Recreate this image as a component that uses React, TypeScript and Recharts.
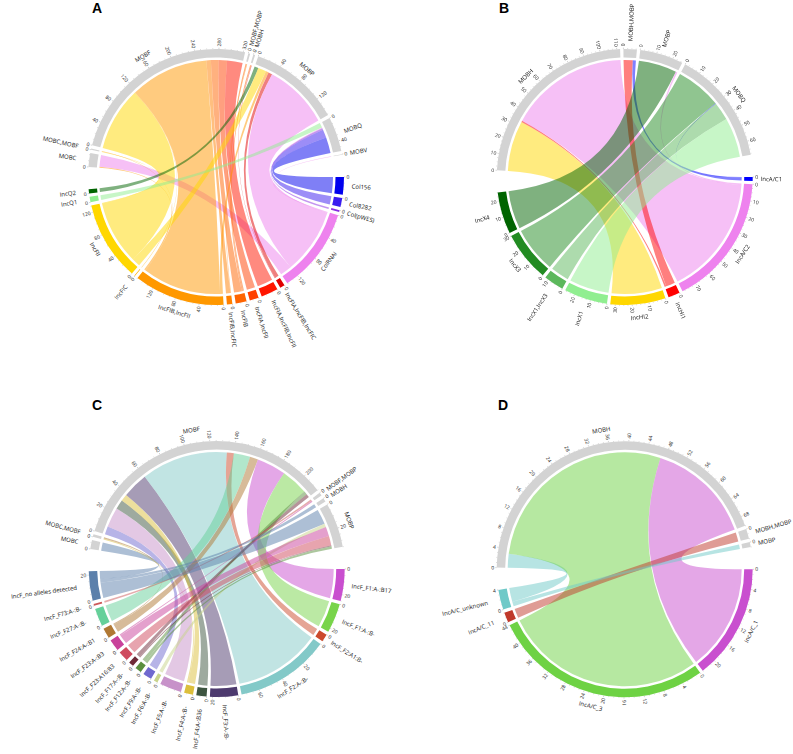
import React from 'react';
import { PieChart, Pie, Cell } from 'recharts';

type Link = [string, string, number];

const GREY = '#d3d3d3';
const BIG_GAP = 10;
const SMALL_GAP = 1.5;

// panel A
const incA = ['Col156', 'Col8282', 'Col(pWES)', 'ColRNAi', 'IncFIA,IncFIB,IncFIC', 'IncFIA,IncFIB,IncFII', 'IncFIA,IncFII', 'IncFIB', 'IncFIB,IncFIC', 'IncFIB,IncFII', 'IncFIC', 'IncFII', 'IncQ1', 'IncQ2'];
const mobA = ['MOBC', 'MOBC,MOBF', 'MOBF', 'MOBF,MOBP', 'MOBH', 'MOBP', 'MOBQ', 'MOBV'];
const coloursA = ['#0000ee', '#3a1cf0', '#8a2be2', '#ee82ee', '#e00000', '#ff1500', '#ff4000', '#ff6400', '#ff8000', '#ff9800', '#ffb000', '#ffd700', '#90ee90', '#006400'];
const linksA: Link[] = [
  ['MOBC', 'IncFIB,IncFII', 2], ['MOBC', 'ColRNAi', 21],
  ['MOBC,MOBF', 'IncFII', 1], ['MOBC,MOBF', 'IncFIB,IncFII', 1],
  ['MOBF', 'IncFII', 115], ['MOBF', 'IncFIC', 1], ['MOBF', 'IncFIB,IncFII', 142], ['MOBF', 'IncFIB,IncFIC', 8], ['MOBF', 'IncFIB', 14], ['MOBF', 'IncFIA,IncFII', 15], ['MOBF', 'IncFIA,IncFIB,IncFII', 28],
  ['MOBF,MOBP', 'IncFIB', 2], ['MOBF,MOBP', 'IncFIB,IncFIC', 1],
  ['MOBH', 'IncFIB', 2], ['MOBH', 'IncFIA,IncFIB,IncFIC', 1],
  ['MOBP', 'IncQ2', 7], ['MOBP', 'IncFII', 15], ['MOBP', 'IncFIB,IncFII', 5], ['MOBP', 'IncFIA,IncFIB,IncFIC', 7], ['MOBP', 'ColRNAi', 118],
  ['MOBQ', 'IncQ1', 9], ['MOBQ', 'ColRNAi', 1], ['MOBQ', 'Col(pWES)', 3], ['MOBQ', 'Col8282', 15], ['MOBQ', 'Col156', 29],
  ['MOBV', 'ColRNAi', 1],
];

// panel B
const incB = ['IncA/C1', 'IncA/C2', 'IncHI1', 'IncHI2', 'IncX1', 'IncX1,IncX3', 'IncX3', 'IncX4'];
const mobB = ['MOBH', 'MOBH,MOBP', 'MOBP', 'MOBQ'];
const coloursB = ['#0000ff', '#ee82ee', '#ff0000', '#ffd700', '#90ee90', '#5cb85c', '#228b22', '#006400'];
const linksB: Link[] = [
  ['MOBH', 'IncHI2', 33], ['MOBH', 'IncHI1', 1], ['MOBH', 'IncA/C2', 78],
  ['MOBH,MOBP', 'IncHI1', 6], ['MOBH,MOBP', 'IncA/C1', 2],
  ['MOBP', 'IncX4', 25], ['MOBP', 'IncA/C2', 1],
  ['MOBQ', 'IncX3', 30], ['MOBQ', 'IncA/C1', 0.3], ['MOBQ', 'IncX1,IncX3', 12], ['MOBQ', 'IncX1', 26],
];

// panel C
const incC = ['IncF_F1:A-:B17', 'IncF_F1:A-:B-', 'IncF_F2:A1:B-', 'IncF_F2:A-:B-', 'IncF_F3:A-:B-', 'IncF_F4:A-:B36', 'IncF_F4:A-:B-', 'IncF_F5:A-:B-', 'IncF_F6:A-:B-', 'IncF_F9:A-:B-', 'IncF_F12:A-:B-', 'IncF_F17:A-:B-', 'IncF_F23:A16:B3', 'IncF_F23:A-:B3', 'IncF_F24:A-:B1', 'IncF_F27:A-:B-', 'IncF_F73:A-:B-', 'IncF_no alleles detected'];
const mobC = ['MOBC', 'MOBC,MOBF', 'MOBF', 'MOBF,MOBP', 'MOBH', 'MOBP'];
const coloursC = ['#c94fcf', '#78d44a', '#cc4a2c', '#83c9c8', '#4d3a6e', '#3d5540', '#dcbf3c', '#c792c9', '#c8d48a', '#7069cf', '#5a8f3e', '#6e2a38', '#cf4a5e', '#c9419b', '#b07834', '#66d09a', '#cc5a5a', '#5c80ab'];
const linksC: Link[] = [
  ['MOBC', 'IncF_no alleles detected', 7],
  ['MOBC,MOBF', 'IncF_F4:A-:B-', 1], ['MOBC,MOBF', 'IncF_F24:A-:B1', 1],
  ['MOBF', 'IncF_F9:A-:B-', 7], ['MOBF', 'IncF_F5:A-:B-', 17], ['MOBF', 'IncF_F4:A-:B36', 8], ['MOBF', 'IncF_F4:A-:B-', 6], ['MOBF', 'IncF_F3:A-:B-', 22], ['MOBF', 'IncF_F2:A-:B-', 74], ['MOBF', 'IncF_F2:A1:B-', 6], ['MOBF', 'IncF_F27:A-:B-', 14], ['MOBF', 'IncF_F24:A-:B1', 7], ['MOBF', 'IncF_F1:A-:B17', 25], ['MOBF', 'IncF_F1:A-:B-', 23], ['MOBF', 'IncF_F12:A-:B-', 3], ['MOBF', 'IncF_F17:A-:B-', 3],
  ['MOBF,MOBP', 'IncF_F73:A-:B-', 1.5], ['MOBF,MOBP', 'IncF_F23:A-:B3', 1],
  ['MOBH', 'IncF_no alleles detected', 3],
  ['MOBP', 'IncF_no alleles detected', 13], ['MOBP', 'IncF_F6:A-:B-', 3], ['MOBP', 'IncF_F23:A-:B3', 8], ['MOBP', 'IncF_F23:A16:B3', 8], ['MOBP', 'IncF_F17:A-:B-', 1], ['MOBP', 'IncF_F12:A-:B-', 2],
];

// panel D
const incD = ['IncA/C_1', 'IncA/C_3', 'IncA/C_11', 'IncA/C_unknown'];
const mobD = ['MOBH', 'MOBH,MOBP', 'MOBP'];
const coloursD = ['#c94fcf', '#6ed244', '#c0392b', '#6fc9c8'];
const linksD: Link[] = [
  ['MOBH', 'IncA/C_unknown', 3], ['MOBH', 'IncA/C_3', 44], ['MOBH', 'IncA/C_1', 23],
  ['MOBH,MOBP', 'IncA/C_11', 2],
  ['MOBP', 'IncA/C_unknown', 1],
];

const OUTER = 128;
const INNER = 119.5;
const LINK_R = 117;
const FONT = '"Open Sans", sans-serif';

const polar = (r: number, deg: number, cx: number, cy: number) => {
  const a = (deg * Math.PI) / 180;
  return { x: cx + r * Math.sin(a), y: cy - r * Math.cos(a) };
};

function layout(inc: string[], mob: string[], colours: string[], links: Link[]) {
  const names = [...inc, ...mob];
  const total = (n: string) => links.reduce((s, l) => (l[0] === n || l[1] === n ? s + l[2] : s), 0);
  const sum = names.reduce((s, n) => s + total(n), 0);
  const gapAfter = (i: number) => (i === inc.length - 1 || i === names.length - 1 ? BIG_GAP : SMALL_GAP);
  const gapSum = names.reduce((s, _, i) => s + gapAfter(i), 0);
  const degPerUnit = (360 - gapSum) / sum;
  const sectors: { name: string; value: number; start: number; end: number; fill: string }[] = [];
  const ring: { name: string; value: number; fill: string }[] = [];
  let at = 90;
  names.forEach((name, i) => {
    const value = total(name);
    const fill = i < inc.length ? colours[i] : GREY;
    sectors.push({ name, value, start: at, end: at + value * degPerUnit, fill });
    ring.push({ name, value, fill });
    at += value * degPerUnit + gapAfter(i);
    ring.push({ name: '', value: gapAfter(i) / degPerUnit, fill: 'none' });
  });
  return { sectors, ring, degPerUnit };
}

function Links({ sectors, degPerUnit, links, cx, cy }: any) {
  const find = (n: string) => sectors.find((s: any) => s.name === n);
  const cursor: Record<string, number> = {};
  const ends = new Map<string, [number, number]>();
  // mobility sectors keep the listed order, the others untwist against their partner
  sectors.forEach((s: any) => {
    let own = links.map((l: Link, i: number) => ({ l, i })).filter(({ l }: any) => l[0] === s.name || l[1] === s.name);
    if (own.some(({ l }: any) => l[1] === s.name)) {
      const key = ({ l }: any) => {
        const p = find(l[0] === s.name ? l[1] : l[0]);
        return ((s.start - (p.start + p.end) / 2) % 360 + 360) % 360;
      };
      own = own.sort((a: any, b: any) => key(a) - key(b));
    }
    cursor[s.name] = s.start;
    own.forEach(({ l, i }: any) => {
      const a0 = cursor[s.name];
      cursor[s.name] += l[2] * degPerUnit;
      ends.set(i + s.name, [a0, cursor[s.name]]);
    });
  });
  const arc = (b: number) => {
    const p = polar(LINK_R, b, cx, cy);
    return `A${LINK_R} ${LINK_R} 0 0 1 ${p.x} ${p.y}`;
  };
  return (
    <g>
      {links.map((l: Link, i: number) => {
        const [a0, a1] = ends.get(i + l[0])!;
        const [b0, b1] = ends.get(i + l[1])!;
        const s = polar(LINK_R, a0, cx, cy);
        const t = polar(LINK_R, b0, cx, cy);
        const d = `M${s.x} ${s.y}${arc(a1)}Q${cx} ${cy} ${t.x} ${t.y}${arc(b1)}Q${cx} ${cy} ${s.x} ${s.y}Z`;
        return <path key={i} d={d} fill={find(l[1]).fill} fillOpacity={0.5} />;
      })}
    </g>
  );
}

function Axes({ sectors, degPerUnit, step, cx, cy }: any) {
  const minor = step / 4;
  return (
    <g fontFamily={FONT} opacity={0.99}>
      {sectors.map((s: any) => {
        const ticks = [];
        for (let v = 0; v <= s.value + 1e-6; v += minor) {
          const deg = s.start + v * degPerUnit;
          const major = Math.abs(v / step - Math.round(v / step)) < 1e-6;
          const p0 = polar(OUTER, deg, cx, cy);
          const p1 = polar(OUTER + (major ? 1.4 : 0.8), deg, cx, cy);
          ticks.push(<line key={v} x1={p0.x} y1={p0.y} x2={p1.x} y2={p1.y} stroke="#555" strokeWidth={0.25} />);
          if (major) {
            const q = polar(OUTER + 2.6, deg, cx, cy);
            const right = deg % 360 < 180;
            ticks.push(
              <text key={`t${v}`} x={q.x} y={q.y} fontSize={5} fill="#222" dominantBaseline="central" textAnchor={right ? 'start' : 'end'}
                transform={`rotate(${right ? deg - 90 : deg - 270} ${q.x} ${q.y})`}>{v}</text>
            );
          }
        }
        const mid = (s.start + s.end) / 2;
        const m = mid % 360;
        const bend = s.end - s.start > 20;
        const right = m < 180;
        const q = polar(bend ? 141 : right ? 136 : 141, mid, cx, cy);
        const rot = bend ? (m > 90 && m < 270 ? m - 180 : m) : right ? m - 90 : m - 270;
        return (
          <g key={s.name}>
            {ticks}
            <text x={q.x} y={q.y} fontSize={6} fill="#111" dominantBaseline="central" textAnchor={bend ? 'middle' : right ? 'start' : 'end'}
              transform={`rotate(${rot} ${q.x} ${q.y})`}>{s.name}</text>
          </g>
        );
      })}
    </g>
  );
}

function Chord({ inc, mob, colours, links, step, left, top, cx, cy }: any) {
  const { sectors, ring, degPerUnit } = layout(inc, mob, colours, links);
  return (
    <div style={{ position: 'absolute', left, top }}>
      <PieChart width={396} height={374} margin={{ top: 0, right: 0, bottom: 0, left: 0 }} style={{ overflow: 'visible' }}>
        <Links sectors={sectors} degPerUnit={degPerUnit} links={links} cx={cx} cy={cy} />
        <Pie data={ring} dataKey="value" cx={cx} cy={cy} innerRadius={INNER} outerRadius={OUTER} startAngle={0} endAngle={-360} paddingAngle={0} stroke="none" isAnimationActive={false}>
          {ring.map((r, i) => <Cell key={i} fill={r.fill} stroke="none" />)}
        </Pie>
        <Axes sectors={sectors} degPerUnit={degPerUnit} step={step} cx={cx} cy={cy} />
      </PieChart>
    </div>
  );
}

const letter = (text: string, left: number, top: number) => (
  <div style={{ position: 'absolute', left, top, font: 'bold 14px "Liberation Sans", sans-serif', color: '#000', lineHeight: '14px' }}>{text}</div>
);

export default function App() {
  return (
    <div style={{ position: 'absolute', left: 0, top: 0, width: 793, height: 754, background: '#fff', overflow: 'hidden' }}>
      <Chord inc={incA} mob={mobA} colours={coloursA} links={linksA} step={40} left={0} top={0} cx={216} cy={177} />
      <Chord inc={incB} mob={mobB} colours={coloursB} links={linksB} step={10} left={397} top={0} cx={227.7} cy={177} />
      <Chord inc={incC} mob={mobC} colours={coloursC} links={linksC} step={20} left={0} top={380} cx={216.7} cy={189} />
      <Chord inc={incD} mob={mobD} colours={coloursD} links={linksD} step={4} left={397} top={380} cx={227.7} cy={189.3} />
      {letter('A', 92, 1)}
      {letter('B', 499, 1)}
      {letter('C', 92, 398)}
      {letter('D', 498, 398)}
    </div>
  );
}
